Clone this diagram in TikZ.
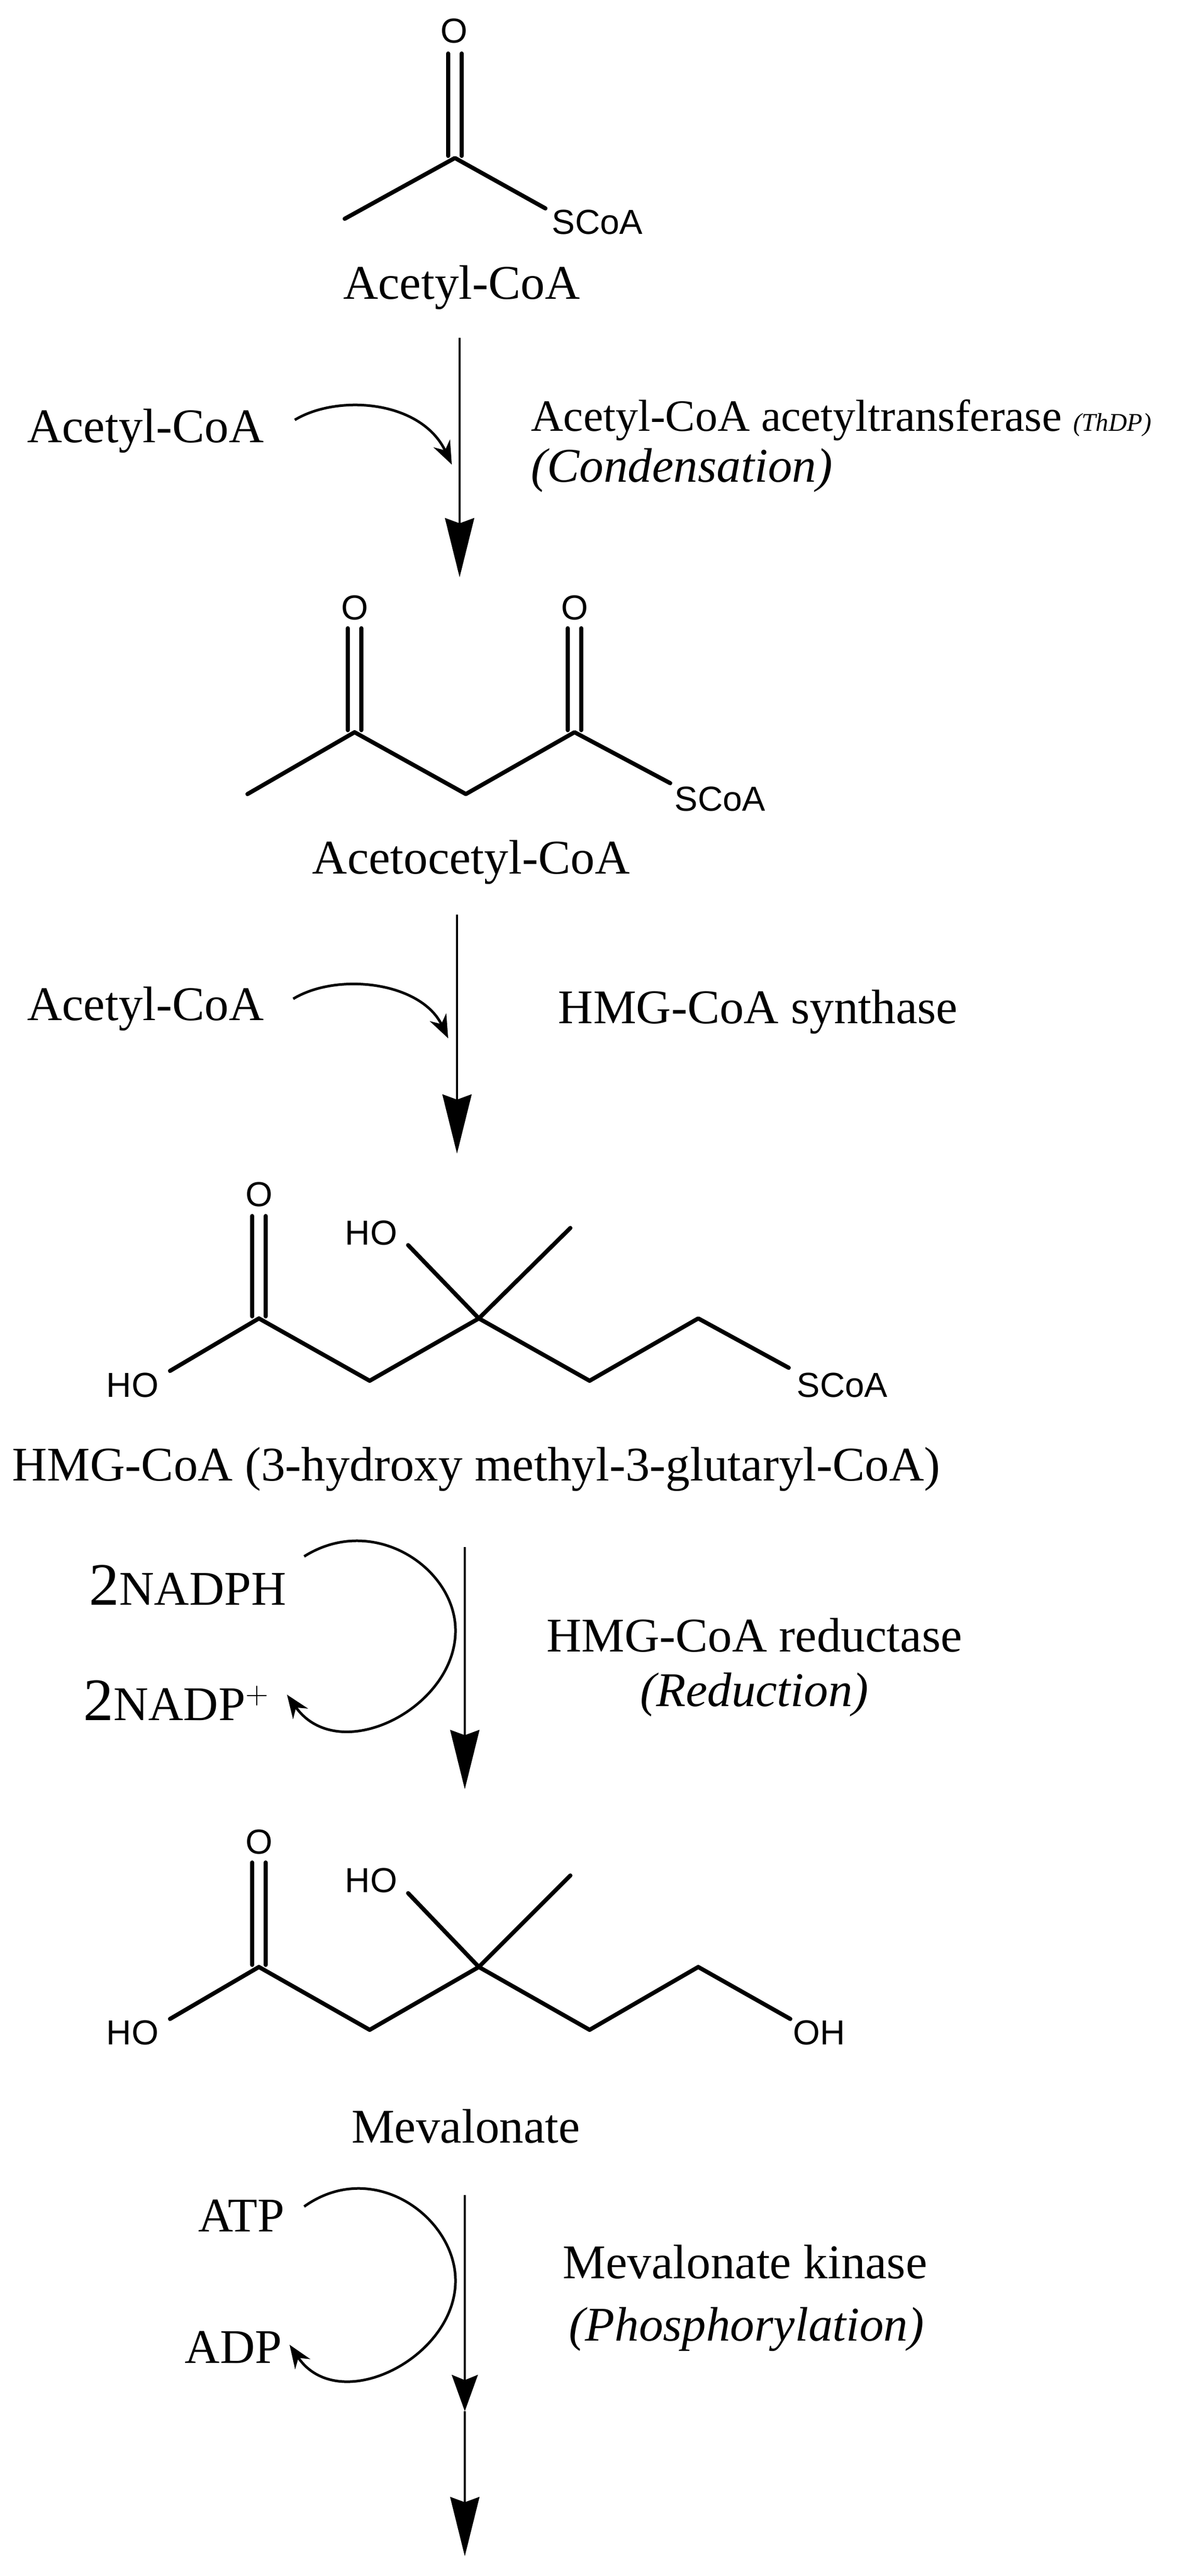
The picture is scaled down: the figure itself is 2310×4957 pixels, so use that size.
\documentclass[tikz,border=0pt]{standalone}
\usepackage{fontspec}
\setmainfont{Liberation Serif}
\newfontfamily\chemfont{Liberation Sans}
\usetikzlibrary{arrows.meta}
\begin{document}
\begin{tikzpicture}[x=0.1mm,y=-0.1mm,
  atom/.style={font=\chemfont\fontsize{19}{22}\selectfont,inner sep=0pt},
  lbl/.style={font=\fontsize{26.5}{30}\selectfont,inner sep=0pt},
  bond/.style={line width=0.8mm,line cap=round,line join=round},
  main/.style={line width=0.45mm,-{Stealth[length=11.4mm,width=5.6mm,inset=1mm]}},
  mid/.style={line width=0.45mm,-{Stealth[length=7mm,width=5mm,inset=1mm]}},
  side/.style={line width=0.5mm,-{Stealth[length=4.5mm,width=3.5mm]}}]
\useasboundingbox (0,0) rectangle (2310,4957);
% ---------- Acetyl-CoA
\node[atom] (o1) at (873,60) {O};
\node[atom] (s1) at (1149,428) {SCoA};
\coordinate (c1) at (875,304);
\coordinate (m1) at (663,421);
\coordinate (sb1) at (1049,401);
\draw[bond] (862,103) -- (862,300) (888,103) -- (888,300);
\draw[bond] (m1) -- (c1) -- (sb1);
\node[lbl] (n1) at (888,553) {Acetyl-CoA};
% arrow 1
\coordinate (a1s) at (884,650);
\coordinate (a1e) at (884,1111);
\draw[main] (a1s) -- (a1e);
\node[lbl] (r1) at (280,829) {Acetyl-CoA};
\coordinate (k1s) at (567,808);
\coordinate (k1e) at (869,894);
\draw[side] (k1s) .. controls (650,758) and (810,770) .. (k1e);
\node[lbl,anchor=west,font=\fontsize{24.5}{28}\selectfont] (e1) at (1021,808) {Acetyl-CoA acetyltransferase \fontsize{14}{16}\selectfont\itshape (ThDP)};
\node[lbl,anchor=west,font=\fontsize{26.5}{30}\selectfont\itshape] (e1b) at (1021,905) {(Condensation)};
% ---------- Acetoacetyl-CoA
\node[atom] (o2a) at (682,1169) {O};
\node[atom] (o2b) at (1105,1169) {O};
\draw[bond] (669,1209) -- (669,1405) (695,1209) -- (695,1405);
\draw[bond] (1092,1209) -- (1092,1405) (1118,1209) -- (1118,1405);
\draw[bond] (476,1528) -- (682,1409) -- (896,1528) -- (1105,1409) -- (1289,1507);
\node[atom] (s2) at (1385,1537) {SCoA};
\node[lbl] (n2) at (906,1659) {Acetocetyl-CoA};
% arrow 2
\coordinate (a2s) at (879,1760);
\coordinate (a2e) at (879,2220);
\draw[main] (a2s) -- (a2e);
\node[lbl] (r2) at (280,1941) {Acetyl-CoA};
\coordinate (k2s) at (564,1922);
\coordinate (k2e) at (862,1998);
\draw[side] (k2s) .. controls (650,1870) and (810,1890) .. (k2e);
\node[lbl] (e2) at (1458,1947) {HMG-CoA synthase};
% ---------- HMG-CoA
\node[atom] (o3) at (498,2298) {O};
\draw[bond] (485,2340) -- (485,2533) (511,2340) -- (511,2533);
\draw[bond] (327,2638) -- (498,2537) -- (711,2657) -- (921,2537) -- (1134,2657) -- (1343,2537) -- (1517,2632);
\draw[bond] (785,2396) -- (921,2537) -- (1097,2363);
\node[atom] (ho3a) at (255,2665) {HO};
\node[atom] (ho3b) at (714,2372) {HO};
\node[atom] (s3) at (1620,2665) {SCoA};
\node[lbl] (n3) at (916,2827) {HMG-CoA (3-hydroxy methyl-3-glutaryl-CoA)};
% arrow 3
\coordinate (a3s) at (894,2977);
\coordinate (a3e) at (894,3443);
\draw[main] (a3s) -- (a3e);
\node[lbl] (r3a) at (361,3050) {\fontsize{33}{34}\selectfont 2\fontsize{26.5}{30}\selectfont NADPH};
\node[lbl] (r3b) at (339,3272) {\fontsize{33}{34}\selectfont 2\fontsize{26.5}{30}\selectfont NADP$^{+}$};
\coordinate (k3s) at (585,2995);
\coordinate (k3e) at (552,3261);
\draw[side] (k3s) .. controls (720,2910) and (880,3020) .. (876,3142) .. controls (872,3290) and (650,3400) .. (k3e);
\node[lbl] (e3) at (1451,3147) {HMG-CoA reductase};
\node[lbl,font=\fontsize{26.5}{30}\selectfont\itshape] (e3b) at (1451,3261) {(Reduction)};
% ---------- Mevalonate
\node[atom] (o4) at (498,3544) {O};
\draw[bond] (485,3584) -- (485,3781) (511,3584) -- (511,3781);
\draw[bond] (327,3885) -- (498,3785) -- (711,3906) -- (921,3785) -- (1134,3906) -- (1343,3785) -- (1520,3885);
\draw[bond] (785,3643) -- (921,3785) -- (1097,3609);
\node[atom] (ho4a) at (255,3911) {HO};
\node[atom] (ho4b) at (714,3618) {HO};
\node[atom] (oh4) at (1576,3911) {OH};
\node[lbl] (n4) at (896,4092) {Mevalonate};
% arrow 4
\coordinate (a4s) at (894,4224);
\coordinate (a4m) at (894,4640);
\coordinate (a4e) at (894,4919);
\draw[mid] (a4s) -- (a4m);
\draw[main] (a4m) -- (a4e);
\node[lbl] (r4a) at (464,4264) {ATP};
\node[lbl] (r4b) at (449,4517) {ADP};
\coordinate (k4s) at (585,4246);
\coordinate (k4e) at (557,4512);
\draw[side] (k4s) .. controls (720,4150) and (880,4270) .. (876,4393) .. controls (872,4540) and (650,4650) .. (k4e);
\node[lbl] (e4) at (1433,4353) {Mevalonate kinase};
\node[lbl,font=\fontsize{26.5}{30}\selectfont\itshape] (e4b) at (1436,4482) {(Phosphorylation)};
\end{tikzpicture}
\end{document}
